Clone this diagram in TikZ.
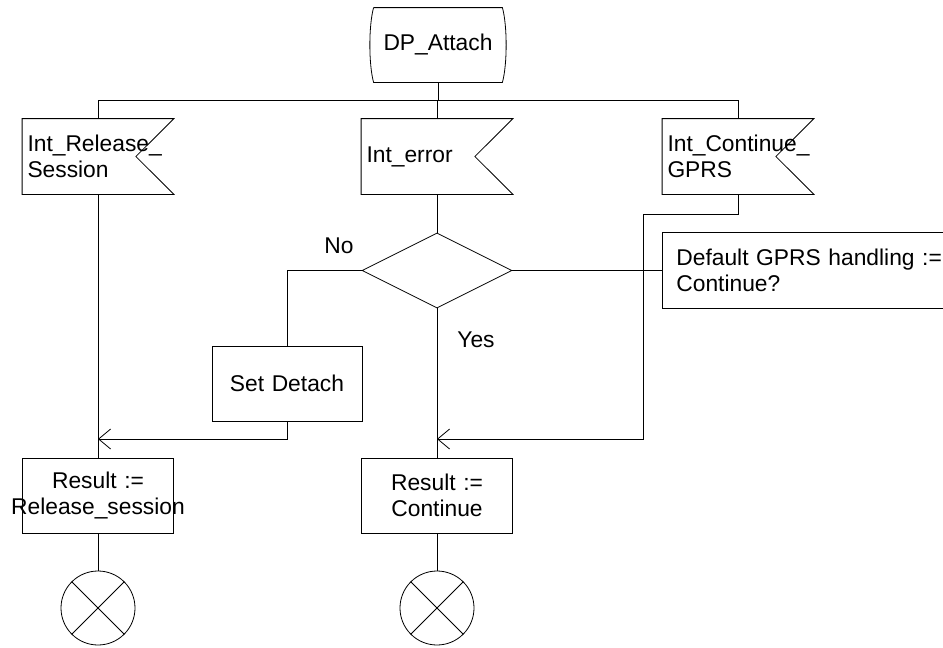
\documentclass[tikz,border=0pt]{standalone}
\usepackage{fontspec}
\setmainfont{Liberation Sans}
\usetikzlibrary{shapes.geometric,arrows.meta}
\newcommand{\ctrline}[1]{\makebox[151pt]{#1}}
\begin{document}
\begin{tikzpicture}[x=1pt,y=-1pt, line width=0.8pt,
  every node/.style={font=\fontsize{22.8}{26}\selectfont},
  box/.style={draw, minimum width=151pt, minimum height=75pt, text width=151pt, inner xsep=0pt, inner ysep=0pt, align=center},
  inbox/.style={minimum width=151pt, minimum height=75pt, text width=141pt, inner xsep=5pt, inner ysep=0pt, align=left},
  term/.style={draw, circle, minimum size=74pt, inner sep=0pt},
  dec/.style={draw, diamond, minimum width=150pt, minimum height=75pt, inner sep=0pt},
  lbl/.style={inner sep=0pt},
  arr/.style={-{Straight Barb[length=12pt,width=20pt]}}
]
\useasboundingbox (0,0) rectangle (943,648);

% start symbol
\node[minimum width=134pt, minimum height=74pt, inner sep=0pt] (start) at (438,45) {DP\_Attach};
\draw ([xshift=3pt]start.north west) -- ([xshift=-3pt]start.north east)
  .. controls +(5,18) and +(5,-18) .. ([xshift=-3pt]start.south east)
  -- ([xshift=3pt]start.south west)
  .. controls +(-5,-18) and +(-5,18) .. ([xshift=3pt]start.north west);

% inputs
\node[inbox] (in1) at (98,156.5) {Int\_Release\_\\Session};
\node[inbox] (in2) at (437,156.5) {Int\_error};
\node[inbox] (in3) at (738,156.5) {Int\_Continue\_\\GPRS};
\foreach \n in {in1,in2,in3}{
  \draw (\n.north west) -- (\n.north east) -- ([xshift=-38pt]\n.east) -- (\n.south east) -- (\n.south west) -- cycle;
}

% decision
\node[dec] (dec) at (437,270.5) {};
\node[anchor=west, minimum height=75pt, text width=280pt, inner xsep=14pt, inner ysep=0pt, align=left] (cmt) at (662,270.5) {Default GPRS handling :=\\Continue?};
\draw ([xshift=281pt]cmt.north west) -- (cmt.north west) -- (cmt.south west) -- ([xshift=281pt]cmt.south west);

\node[lbl] (no) at (339,246) {No};
\node[lbl] (yes) at (476,340) {Yes};

% tasks
\node[box, minimum width=150pt, text width=150pt] (setd) at (287,383.5) {Set Detach};
\node[box] (res1) at (98,495.5) {\ctrline{Result :=}\\\ctrline{Release\_session}};
\node[box] (res2) at (437,495.5) {\ctrline{Result :=}\\\ctrline{Continue}};

% terminators
\node[term] (t1) at (98,608) {};
\node[term] (t2) at (437,608) {};
\foreach \n in {t1,t2}{
  \draw (\n.north west) -- (\n.south east);
  \draw (\n.north east) -- (\n.south west);
}

% connectors
\coordinate (busL) at (98,100);
\coordinate (busM) at (437,100);
\coordinate (busR) at (738,100);
\draw (busL) -- (busR);
\draw (start.south) -- (start.south |- busM);
\draw (busL) -- (in1.north);
\draw (busM) -- (in2.north);
\draw (busR) -- (in3.north);

\draw (in1.south) -- (res1.north);
\draw (in2.south) -- (dec.north);
\draw (dec.west) -| (setd.north);
\draw (dec.east) -- (cmt.west);
\draw (dec.south) -- (res2.north);

\coordinate (m1) at (98,439);
\coordinate (m2) at (437,439);
\coordinate (k1) at (738,214);
\coordinate (k2) at (643,214);
\coordinate (k3) at (643,439);
\draw[arr] (setd.south) |- (m1);
\draw[arr] (in3.south) -- (k1) -- (k2) -- (k3) -- (m2);

\draw (res1.south) -- (t1.north);
\draw (res2.south) -- (t2.north);
\end{tikzpicture}
\end{document}
